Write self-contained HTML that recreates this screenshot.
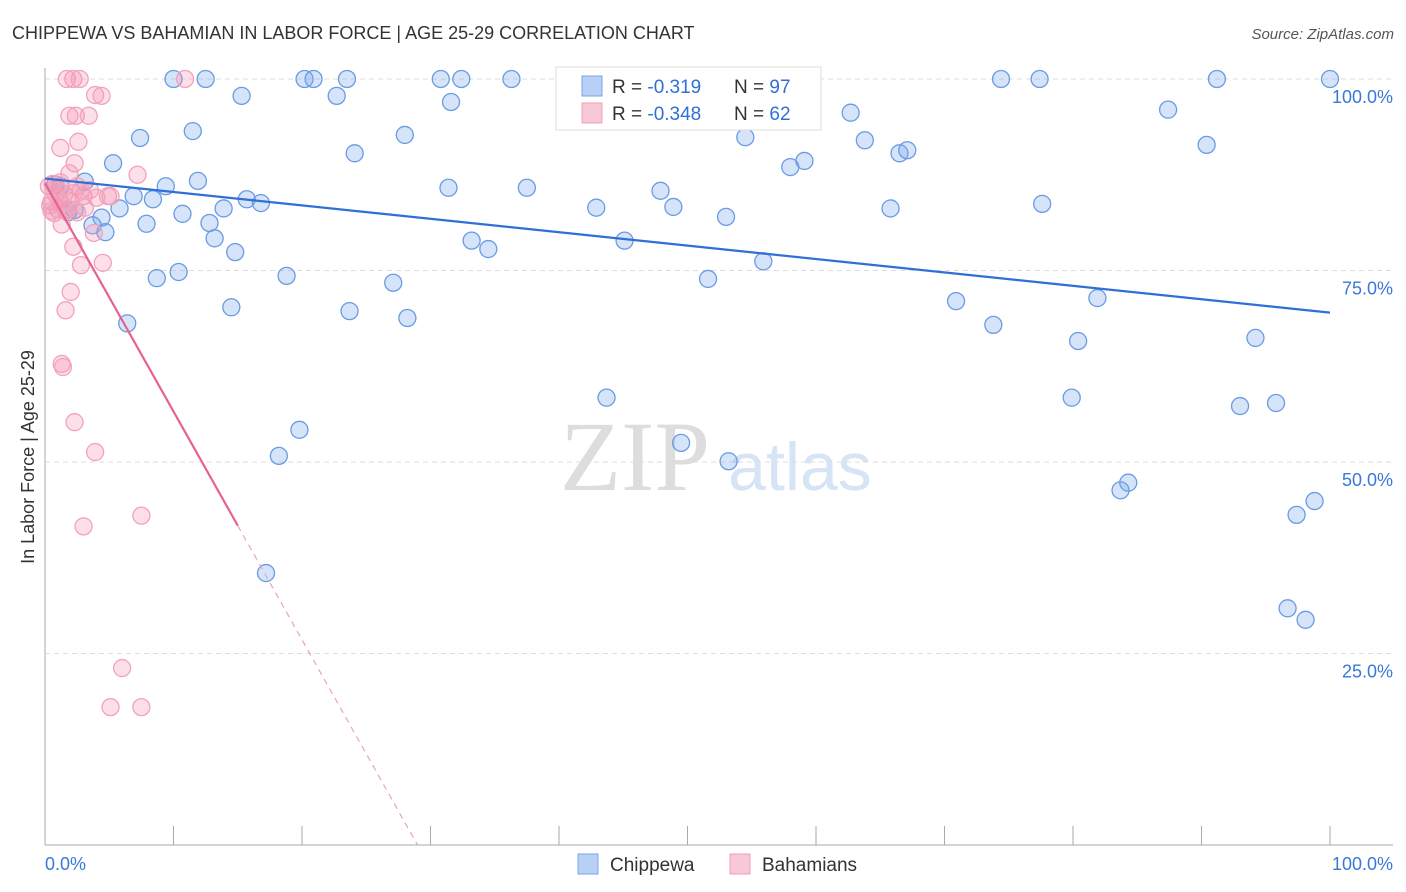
<!DOCTYPE html>
<html><head><meta charset="utf-8"><style>
body{margin:0;background:#fff;font-family:"Liberation Sans",sans-serif;}
svg{display:block}
</style></head><body>
<svg id="chart" width="1406" height="892">
<text x="12" y="39" font-size="18" fill="#333">CHIPPEWA VS BAHAMIAN IN LABOR FORCE | AGE 25-29 CORRELATION CHART</text>
<text x="1394" y="39" font-size="15" fill="#555" font-style="italic" text-anchor="end">Source: ZipAtlas.com</text>
<text x="635" y="490" font-size="100" fill="#ddd" font-family="Liberation Serif,serif" text-anchor="middle">ZIP</text>
<text x="800" y="490" font-size="68" fill="#d6e4f5" text-anchor="middle">atlas</text>
<text transform="translate(34,457) rotate(-90)" font-size="18" fill="#333" text-anchor="middle">In Labor Force | Age 25-29</text>
<g id="grid"></g><g id="marks"></g><g id="lines"></g>
<g>
<rect x="556" y="67" width="265" height="63" fill="#fff" stroke="#ddd"/>
<rect x="582" y="76" width="20" height="20" fill="#b8d0f3" stroke="#7aa5e6"/>
<rect x="582" y="103" width="20" height="20" fill="#f9c8d6" stroke="#f0a0b8"/>
<text x="612" y="93" font-size="19" fill="#333">R = <tspan fill="#2f6fd6">-0.319</tspan><tspan x="734">N = </tspan><tspan fill="#2f6fd6">97</tspan></text>
<text x="612" y="120" font-size="19" fill="#333">R = <tspan fill="#2f6fd6">-0.348</tspan><tspan x="734">N = </tspan><tspan fill="#2f6fd6">62</tspan></text>
</g>
<g>
<rect x="578" y="854" width="20" height="20" fill="#b8d0f3" stroke="#7aa5e6"/>
<text x="610" y="871" font-size="19" fill="#333">Chippewa</text>
<rect x="730" y="854" width="20" height="20" fill="#f9c8d6" stroke="#f0a0b8"/>
<text x="762" y="871" font-size="19" fill="#333">Bahamians</text>
</g>
</svg>
<script>
const xTicks=[0,10,20,30,40,50,60,70,80,90,100];
const yTicks=[25,50,75,100];
const yTickLabels=["25.0%","50.0%","75.0%","100.0%"];
const xLabels=["0.0%","100.0%"];
const chippewaX=[10.0,12.5,20.2,20.9,23.5,30.8,32.4,36.3,49.8,74.4,77.4,91.2,100,15.3,22.7,31.6,11.5,7.4,28.0,24.1,5.3,87.4,62.7,63.8,54.5,66.5,67.1,59.1,58.0,90.4,0.8,3.1,9.4,11.9,6.9,8.4,15.7,16.8,31.4,37.5,47.9,48.9,42.9,53.0,65.8,77.6,13.9,10.7,5.8,4.4,7.9,12.8,3.7,4.7,13.2,14.8,33.2,34.5,45.1,55.9,51.6,8.7,10.4,18.8,27.1,14.5,23.7,28.2,6.4,70.9,73.8,81.9,80.4,94.2,79.9,93.0,95.8,43.7,19.8,49.5,53.2,18.2,83.7,84.3,97.4,98.8,96.7,98.1,17.2,1.8,1.2,2.3];
const chippewaY=[100,100,100,100,100,100,100,100,100,100,100,100,100,97.8,97.8,97.0,93.2,92.3,92.7,90.3,89.0,96.0,95.6,92.0,92.4,90.3,90.7,89.3,88.5,91.4,86.2,86.6,86.0,86.7,84.7,84.3,84.3,83.8,85.8,85.8,85.4,83.3,83.2,82.0,83.1,83.7,83.1,82.4,83.1,81.9,81.1,81.2,80.9,80.0,79.2,77.4,78.9,77.8,78.9,76.2,73.9,74.0,74.8,74.3,73.4,70.2,69.7,68.8,68.1,71.0,67.9,71.4,65.8,66.2,58.4,57.3,57.7,58.4,54.2,52.5,50.1,50.8,46.3,47.3,43.1,44.9,30.9,29.4,35.5,82.6,86.0,82.9];
const bahamianX=[1.7,2.2,2.7,10.9,3.9,4.4,1.9,2.4,3.4,2.6,1.2,2.3,1.9,7.2,4.9,5.1,3.0,3.1,3.8,2.2,2.8,4.5,2.0,1.6,1.3,1.4,2.3,3.9,3.0,7.5,6.0,5.1,7.5,0.3,0.5,0.8,1.0,1.2,0.4,1.5,2.0,2.5,0.7,1.8,1.3,2.8,0.6,1.1,1.6,2.2,0.9,3.5,2.5,1.2,0.5,4.0];
const bahamianY=[100,100,100,100,97.9,97.8,95.2,95.2,95.2,91.8,91.0,89.0,87.7,87.5,84.7,84.7,84.7,83.2,79.9,78.1,75.7,76.0,72.2,69.8,62.8,62.4,55.2,51.3,41.6,43.0,23.1,18.0,18.0,86,84,85,83,86.5,83.5,85,84,86,82.5,83,81,85.5,86.3,84.3,82.8,85.1,85.8,85.5,82.6,83.8,82.8,84.5];
const chippewaTrend=[87.0,69.5];      // y at x=0 and x=100
const bahamianTrend=[86.4,-2.98];     // intercept, slope
const NS="http://www.w3.org/2000/svg";
const X=v=>45+v*12.85, Y=v=>845-v*7.66;
function mk(t,a,p){const e=document.createElementNS(NS,t);for(const k in a)e.setAttribute(k,a[k]);p.appendChild(e);return e;}
const grid=document.getElementById('grid'),marks=document.getElementById('marks'),lines=document.getElementById('lines');
yTicks.forEach((t,i)=>{
 const l=mk('line',{x1:45,x2:1393,y1:Y(t),y2:Y(t),stroke:'#ddd','stroke-dasharray':'5,4'},grid);
 
 
 const tx=mk('text',{x:1393,y:Y(t)+24,'font-size':18,fill:'#3a78d8','text-anchor':'end'},grid);
 tx.textContent=yTickLabels[i];
 
 
});
const ax=mk('line',{x1:45,x2:45,y1:68,y2:845,stroke:'#aaa'},grid);


const bx=mk('line',{x1:45,x2:1393,y1:845,y2:845,stroke:'#aaa'},grid);


xTicks.forEach(t=>{
 const l=mk('line',{x1:X(t),x2:X(t),y1:826,y2:845,stroke:'#aaa'},grid);
 
 
});
[[0,'start'],[100,'end']].forEach((d,i)=>{
 const tx=mk('text',{x:i?1393:45,y:870,'font-size':18,fill:'#3a78d8','text-anchor':d[1]},grid);
 tx.textContent=xLabels[i];
 
 
});
chippewaX.forEach((v,i)=>{
 const c=mk('circle',{cx:X(v),cy:Y(chippewaY[i]),r:8.5,fill:'rgba(120,165,235,0.3)',stroke:'#6a9be3','stroke-width':1.3},marks);
 
 
});
bahamianX.forEach((v,i)=>{
 const c=mk('circle',{cx:X(v),cy:Y(bahamianY[i]),r:8.5,fill:'rgba(245,150,180,0.3)',stroke:'#f2a3bb','stroke-width':1.3},marks);
 
 
});
const bl=mk('line',{x1:X(0),y1:Y(chippewaTrend[0]),x2:X(100),y2:Y(chippewaTrend[1]),stroke:'#2f6fd6','stroke-width':2.2},lines);


const pb=x=>bahamianTrend[0]+bahamianTrend[1]*x;
const x0=-bahamianTrend[0]/bahamianTrend[1];
const pl=mk('line',{x1:X(0),y1:Y(pb(0)),x2:X(15),y2:Y(pb(15)),stroke:'#e8628f','stroke-width':2.2},lines);


const pd=mk('line',{x1:X(15),y1:Y(pb(15)),x2:X(x0),y2:Y(0),stroke:'#eea0b8','stroke-width':1.2,'stroke-dasharray':'6,5'},lines);


</script>
</body></html>
